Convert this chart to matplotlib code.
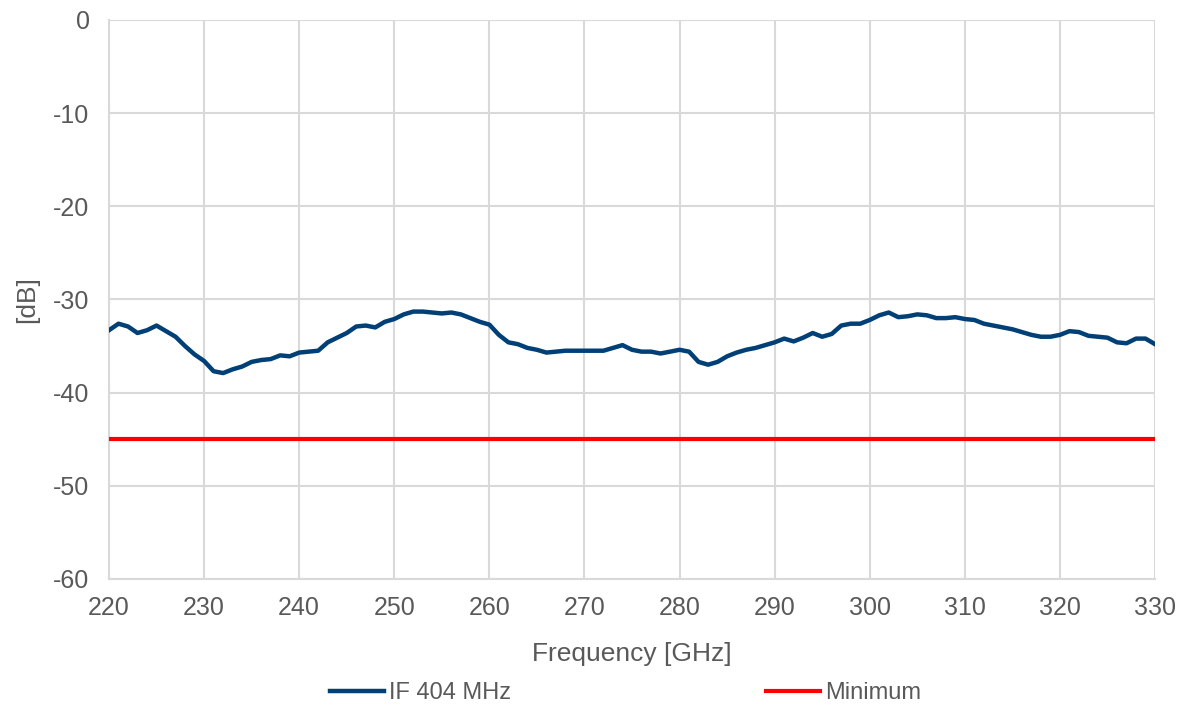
import matplotlib.pyplot as plt
import numpy as np

plt.rcParams['font.family'] = ['Liberation Sans', 'DejaVu Sans']
plt.rcParams['axes.unicode_minus'] = False

# Frequency sweep (GHz) and measured level (dB)
freq = np.arange(220, 331, 1)
if_404 = [
    -33.3, -32.6, -32.9, -33.6, -33.3, -32.8, -33.4, -34.0, -35.0, -35.9,
    -36.6, -37.7, -37.9, -37.5, -37.2, -36.7, -36.5, -36.4, -36.0, -36.1,
    -35.7, -35.6, -35.5, -34.6, -34.1, -33.6, -32.9, -32.8, -33.0, -32.4,
    -32.1, -31.6, -31.3, -31.3, -31.4, -31.5, -31.4, -31.6, -32.0, -32.4,
    -32.7, -33.8, -34.6, -34.8, -35.2, -35.4, -35.7, -35.6, -35.5, -35.5,
    -35.5, -35.5, -35.5, -35.2, -34.9, -35.4, -35.6, -35.6, -35.8, -35.6,
    -35.4, -35.6, -36.7, -37.0, -36.7, -36.1, -35.7, -35.4, -35.2, -34.9,
    -34.6, -34.2, -34.5, -34.1, -33.6, -34.0, -33.7, -32.8, -32.6, -32.6,
    -32.2, -31.7, -31.4, -31.9, -31.8, -31.6, -31.7, -32.0, -32.0, -31.9,
    -32.1, -32.2, -32.6, -32.8, -33.0, -33.2, -33.5, -33.8, -34.0, -34.0,
    -33.8, -33.4, -33.5, -33.9, -34.0, -34.1, -34.6, -34.7, -34.2, -34.2,
    -34.8,
]
minimum = -45

text_col = '#595959'
grid_col = '#d9d9d9'

fig = plt.figure(figsize=(11.82, 7.11), dpi=100)
ax = fig.add_axes([0.0922, 0.1857, 0.8850, 0.7862])

ax.plot(freq, if_404, color='#004077', lw=3.2, label='IF 404 MHz', zorder=3)
ax.plot([freq[0], freq[-1]], [minimum, minimum], color='#ff0000', lw=3,
        label='Minimum', zorder=3)

ax.set_xlim(220, 330)
ax.set_ylim(-60, 0)
ax.set_xticks(np.arange(220, 331, 10))
ax.set_yticks(np.arange(-60, 1, 10))
ax.grid(True, color=grid_col, lw=1.5)
ax.set_axisbelow(True)
for s in ['top', 'right']:
    ax.spines[s].set_visible(False)
for s in ['left', 'bottom']:
    ax.spines[s].set_color(grid_col)
    ax.spines[s].set_linewidth(1.5)
ax.tick_params(length=0, labelsize=18, colors=text_col)
ax.tick_params(axis='x', pad=12)
ax.tick_params(axis='y', pad=14)

ax.set_xlabel('Frequency [GHz]', fontsize=19, color=text_col, labelpad=16)
ax.set_ylabel('[dB]', fontsize=19, color=text_col, labelpad=10)

fig.legend(loc='center', bbox_to_anchor=(0.529, 0.025), ncol=2, frameon=False,
           fontsize=17, handlelength=2.3, handletextpad=0.2, columnspacing=10.8,
           labelcolor=text_col)

fig.savefig('out.png', dpi=100)
